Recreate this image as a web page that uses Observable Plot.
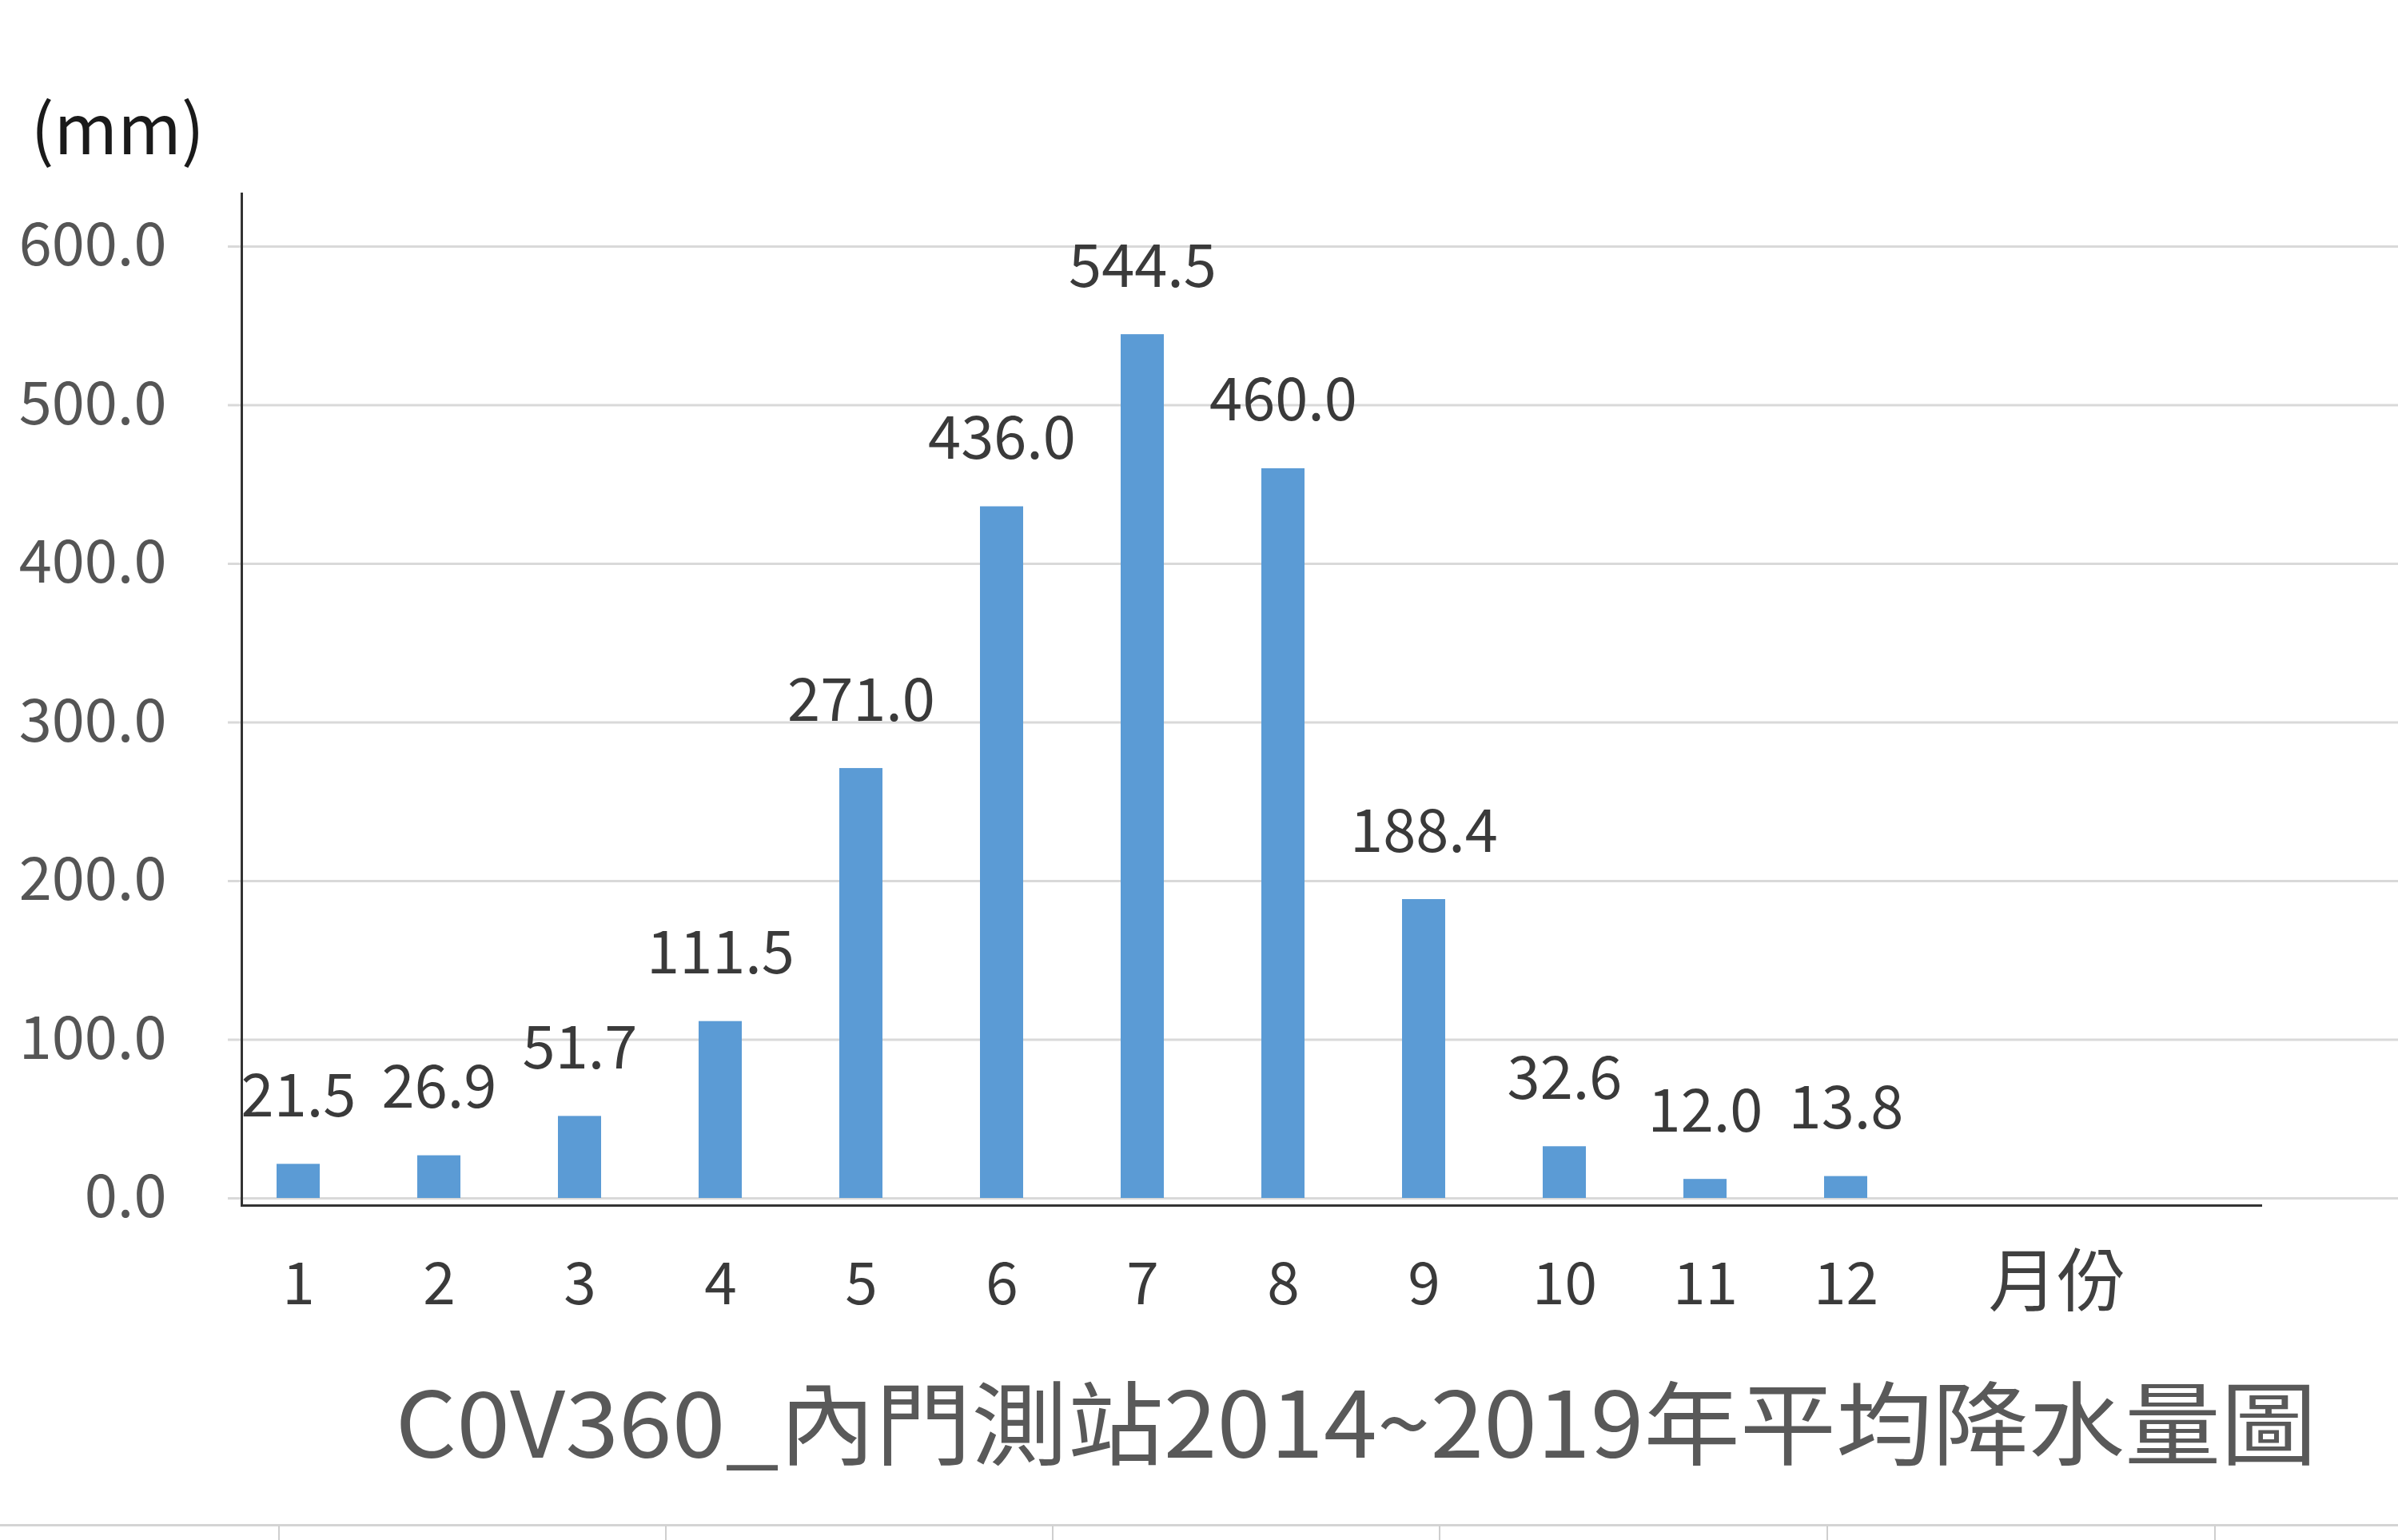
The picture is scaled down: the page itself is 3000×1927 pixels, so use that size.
<!DOCTYPE html>
<html>
<head>
<meta charset="utf-8">
<script src="https://cdn.jsdelivr.net/npm/d3@7"></script>
<script src="https://cdn.jsdelivr.net/npm/@observablehq/plot@0.6"></script>
<style>
  html, body { margin: 0; padding: 0; background: #fff; }
  #wrap { position: relative; width: 3000px; height: 1927px; overflow: hidden; background: #fff; }
  #chart { position: absolute; left: 0; top: 0; }
  .sheet-h { position: absolute; left: 0; top: 1907px; width: 3000px; height: 0; border-top: 3px solid #d4d4d4; }
  .sheet-v { position: absolute; top: 1909px; width: 0; height: 20px; border-left: 2px solid #cfcfcf; }
</style>
</head>
<body>
<div id="wrap">
  <div id="chart"></div>
  <div class="sheet-h"></div>
  <div class="sheet-v" style="left:348px"></div>
  <div class="sheet-v" style="left:832px"></div>
  <div class="sheet-v" style="left:1316px"></div>
  <div class="sheet-v" style="left:1800px"></div>
  <div class="sheet-v" style="left:2285px"></div>
  <div class="sheet-v" style="left:2770px"></div>
</div>
<script>
// ---- data ----
const months = ["1","2","3","4","5","6","7","8","9","10","11","12"];
const rainfall = [21.5, 26.9, 51.7, 111.5, 271.0, 436.0, 544.5, 460.0, 188.4, 32.6, 12.0, 13.8];
const yTicks = [0, 100, 200, 300, 400, 500, 600];
const titleText = "C0V360_內門測站2014~2019年平均降水量圖";
const unitText = "(mm)";
const xAxisTitle = "月份";

const data = months.map((m, i) => ({month: m, value: rainfall[i]}));

const W = 3000, H = 1927;
const fontFamily = "'Noto Sans CJK TC', 'Noto Sans CJK SC', sans-serif";

const chart = Plot.plot({
  width: W,
  height: H,
  marginLeft: 302,
  marginTop: 242,
  marginBottom: H - 1508,
  marginRight: W - 2828,
  style: {fontFamily, background: "#fff", overflow: "visible"},
  x: {domain: months, range: [285, 285 + 12 * 176], paddingInner: 0.693, paddingOuter: 0.3465},
  y: {domain: [0, 600], range: [1499, 308]},
  marks: [
    Plot.gridY(yTicks, {stroke: "#d9d9d9", strokeOpacity: 1, strokeWidth: 3, insetLeft: -17, insetRight: -(W - 2828)}),
    Plot.barY(data, {x: "month", y: "value", fill: "#5B9BD5"}),
    Plot.text(data, {x: "month", y: "value", text: d => d.value.toFixed(1), dy: -60, lineAnchor: "bottom", fontSize: 74, fill: "#3a3a3a"}),
    Plot.frame({anchor: "left", stroke: "#333333", strokeWidth: 3}),
    Plot.frame({anchor: "bottom", stroke: "#333333", strokeWidth: 3}),
    Plot.axisY({ticks: yTicks, tickFormat: d => d.toFixed(1), tickSize: 0, tickPadding: 94, fontSize: 74, fill: "#555555", label: null}),
    Plot.axisX({tickSize: 0, tickPadding: 72, fontSize: 73, fill: "#3a3a3a", label: null}),
    Plot.text([xAxisTitle], {frameAnchor: "bottom-right", dx: -255, dy: 125, lineAnchor: "bottom", textAnchor: "middle", fontSize: 86, fill: "#404040"}),
    Plot.text([unitText], {frameAnchor: "top-left", dx: -264, dy: -50, lineAnchor: "bottom", textAnchor: "start", fontSize: 86, fill: "#1a1a1a"}),
    Plot.text([titleText], {frameAnchor: "bottom-left", dx: 192, dy: 315, lineAnchor: "bottom", textAnchor: "start", fontSize: 114, fill: "#595959"})
  ]
});

document.getElementById("chart").appendChild(chart);

// stretch the title to the width it occupies in the reference
d3.select(chart).selectAll("text").each(function() {
  if (this.textContent === titleText) {
    this.setAttribute("textLength", 2404);
    this.setAttribute("lengthAdjust", "spacingAndGlyphs");
  }
});
</script>
</body>
</html>
